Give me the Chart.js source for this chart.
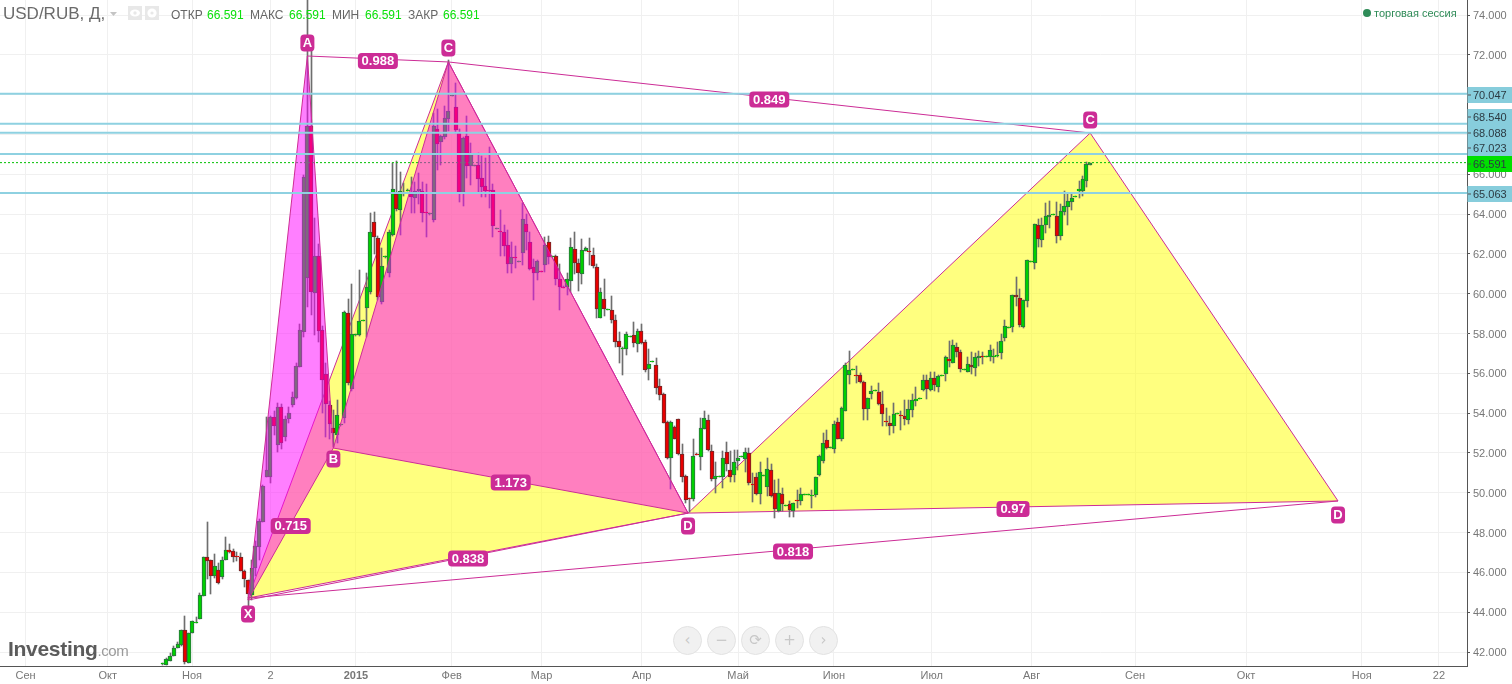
<!DOCTYPE html>
<html lang="ru">
<head>
<meta charset="utf-8">
<title>USD/RUB</title>
<script src="https://cdn.jsdelivr.net/npm/chart.js@4/dist/chart.umd.min.js"></script>
<style>
  html, body { margin: 0; padding: 0; background: #fff; overflow: hidden; }
  #stage { position: relative; width: 1512px; height: 684px; font-family: "Liberation Sans", Arial, sans-serif; }
  canvas { position: absolute; left: 0; top: 0; }
  .t { position: absolute; white-space: nowrap; line-height: 1; }
  .cap { top: 9px; font-size: 12px; color: #666; }
  .val { top: 9px; font-size: 12px; color: #0ce00c; }
  .nav { position: absolute; top: 626px; width: 27px; height: 27px; border-radius: 50%; background: #f1f1f1; border: 1px solid #e2e2e2;
         color: #c8c8c8; font: 15px/27px "DejaVu Sans", sans-serif; text-align: center; }
  .ico { position: absolute; top: 6px; width: 14px; height: 14px; background: #e8e8e8; }
</style>
</head>
<body>
<div id="stage">
  <canvas id="chart" width="1512" height="684"></canvas>
  <div class="t" style="left:3px;top:5px;font-size:17px;color:#6a6a6a">USD/RUB, Д,</div>
  <svg style="position:absolute;left:110px;top:12px" width="8" height="5"><path d="M0 0H7L3.5 4Z" fill="#c4c4c4"/></svg>
  <div class="ico" style="left:128px"><svg width="14" height="14"><ellipse cx="7" cy="7" rx="5" ry="3.5" fill="#fff"/><circle cx="7" cy="7" r="1.7" fill="#e8e8e8"/></svg></div>
  <div class="ico" style="left:145px"><svg width="14" height="14"><circle cx="7" cy="7" r="4.6" fill="#fff"/><circle cx="7" cy="7" r="1.6" fill="#e8e8e8"/></svg></div>
  <div class="t cap" style="left:171px">ОТКР</div><div class="t val" style="left:207px">66.591</div>
  <div class="t cap" style="left:250px">МАКС</div><div class="t val" style="left:289px">66.591</div>
  <div class="t cap" style="left:332px">МИН</div><div class="t val" style="left:365px">66.591</div>
  <div class="t cap" style="left:408px">ЗАКР</div><div class="t val" style="left:443px">66.591</div>
  <div style="position:absolute;left:1363px;top:9px;width:8px;height:8px;border-radius:50%;background:#2e8b57"></div>
  <div class="t" style="left:1374px;top:8px;font-size:11px;color:#2e8b57">торговая сессия</div>
  <div class="t" style="left:8px;top:638px;font-size:21px;font-weight:bold;letter-spacing:-0.3px;color:#5b5b5b">Investing<span style="font-weight:normal;font-size:15px;letter-spacing:-0.4px;color:#9a9a9a">.com</span></div>
  <div class="nav" style="left:673px">‹</div>
  <div class="nav" style="left:707px">−</div>
  <div class="nav" style="left:741px">⟳</div>
  <div class="nav" style="left:775px">+</div>
  <div class="nav" style="left:809px">›</div>
</div>
<script>
// Daily USD/RUB bars, oldest first.
const opens = [
41.38,41.36,41.56,41.81,42.19,42.33,43.10,41.46,42.94,43.47,
43.64,44.83,46.76,46.60,45.80,46.10,45.78,46.61,47.11,47.06,
46.84,46.77,46.05,45.60,44.86,46.20,47.29,48.55,50.81,50.77,
53.79,52.42,54.30,52.79,53.69,54.43,54.78,56.34,58.10,60.81,
68.43,60.06,61.90,58.18,55.97,54.41,53.26,52.90,53.40,53.74,
59.02,55.20,57.94,57.94,58.64,59.27,60.10,63.62,62.79,59.60,
61.85,61.03,62.95,65.02,64.21,65.05,65.18,65.02,64.79,65.15,
65.15,64.11,64.02,63.73,68.27,67.63,67.90,68.78,69.95,69.37,
68.10,65.08,67.92,66.43,66.44,66.46,65.82,65.42,65.24,65.22,
63.27,63.18,63.10,62.45,61.50,61.83,61.61,62.07,63.50,62.60,
61.33,61.06,61.15,61.46,62.59,61.85,61.89,60.74,60.35,60.33,
60.66,62.24,61.53,60.98,62.17,62.15,61.93,61.33,58.76,59.72,
59.20,59.17,58.67,57.61,57.24,57.24,57.84,57.92,57.49,58.14,
57.56,56.24,56.59,56.41,55.35,54.95,53.56,51.76,53.29,53.69,
51.93,50.83,49.72,49.70,51.95,51.81,53.22,53.64,52.09,50.67,
50.81,50.78,52.03,51.13,50.88,51.62,51.81,51.68,51.98,50.43,
50.77,49.94,50.86,50.31,51.13,49.97,49.10,49.92,49.35,49.42,
49.10,49.64,49.60,49.90,49.90,49.85,49.87,50.88,51.58,52.64,
52.26,52.22,53.54,52.69,54.13,55.93,56.18,55.92,55.90,55.55,
54.23,54.98,55.13,55.05,54.45,53.61,53.49,53.37,53.97,53.91,
53.84,53.68,54.18,54.63,54.72,55.18,55.65,55.15,55.75,55.33,
55.88,55.95,56.71,56.51,57.31,57.06,56.18,56.09,56.41,56.29,
56.75,56.88,56.84,56.81,56.84,56.88,57.05,57.77,58.30,58.32,
59.93,59.78,58.35,59.65,61.61,61.57,63.44,62.68,63.44,63.84,
63.97,63.89,62.92,64.09,64.38,64.63,64.88,65.19,65.18,65.68,
66.49];
const highs = [
41.45,41.71,41.95,42.30,42.52,43.12,43.80,42.94,43.56,43.76,
44.98,46.77,48.53,46.60,46.92,46.47,46.79,47.78,47.43,47.18,
47.04,46.97,46.10,45.60,46.62,47.60,48.68,50.40,53.80,53.85,
54.10,54.51,54.45,53.85,54.33,55.06,56.54,58.48,65.95,78.00,
72.25,63.80,62.50,58.40,56.50,54.60,54.16,54.66,53.46,59.12,
59.72,60.48,57.98,61.20,58.68,61.06,64.04,64.09,62.90,62.30,
61.90,63.20,66.56,66.67,66.13,65.57,65.25,65.88,65.63,66.07,
65.60,65.53,64.08,69.08,69.30,68.00,69.45,71.75,70.00,70.60,
68.30,67.90,68.94,67.60,66.47,67.10,66.92,66.83,67.39,65.52,
63.33,64.20,63.47,63.20,62.60,62.40,61.65,64.55,64.00,63.12,
61.75,61.70,61.17,62.87,62.90,61.90,61.95,61.50,60.37,61.04,
62.79,63.12,61.73,62.75,62.35,62.79,62.28,61.48,60.27,60.73,
59.24,59.89,58.92,58.08,57.35,58.08,57.88,58.57,58.21,58.47,
57.68,57.21,56.63,56.76,55.72,55.00,53.60,53.62,53.35,53.72,
52.45,50.90,49.75,52.69,52.00,53.74,54.11,53.91,52.40,51.56,
50.85,52.10,52.57,52.10,52.15,52.15,51.85,52.27,52.27,50.98,
51.00,51.53,50.90,51.73,51.45,50.64,50.67,50.22,49.39,49.60,
49.50,50.14,50.22,49.94,49.94,50.14,50.78,51.90,53.00,53.15,
52.30,53.60,53.77,54.30,56.54,57.13,56.22,56.37,56.00,55.60,
54.75,55.37,55.17,55.53,55.13,54.25,53.86,54.50,54.01,54.13,
54.66,54.66,54.96,55.33,54.76,55.92,55.92,56.05,56.05,55.90,
55.92,56.85,57.64,57.68,57.54,57.20,56.22,56.81,57.08,57.05,
57.13,57.10,56.88,57.41,57.21,57.58,58.00,58.68,58.34,59.95,
60.86,60.24,59.70,61.72,61.65,63.53,63.74,63.79,64.55,64.66,
64.01,64.60,64.50,65.17,65.00,65.00,64.92,65.67,65.92,66.60,
66.59];
const lows = [
41.36,41.36,41.56,41.81,42.19,42.30,41.40,41.46,42.94,43.44,
43.64,44.80,45.67,44.93,45.72,45.40,45.67,46.60,46.99,46.52,
46.59,46.09,45.28,44.28,44.60,45.80,46.60,48.55,50.81,50.49,
52.90,52.06,52.20,52.60,53.50,54.30,54.70,56.30,57.84,59.35,
58.93,57.93,57.60,54.00,52.82,52.70,52.32,52.50,53.38,53.50,
55.40,55.10,57.90,57.90,58.62,57.84,60.00,62.00,59.70,59.50,
61.80,60.86,62.90,64.16,62.95,64.90,65.15,64.04,64.06,64.50,
63.62,62.87,63.96,63.60,66.22,66.47,67.80,68.17,69.93,68.10,
64.63,64.41,65.80,65.47,66.42,65.05,64.87,64.87,64.30,62.87,
63.25,61.90,61.90,61.03,61.06,61.30,61.59,61.45,62.20,61.20,
59.70,60.70,61.10,61.12,61.50,61.83,60.44,59.19,60.30,59.94,
60.10,61.00,60.16,60.49,62.15,61.45,61.30,58.80,58.76,58.90,
59.18,58.52,57.34,56.51,55.92,56.92,57.82,57.34,57.09,57.50,
56.09,55.67,56.57,54.96,54.66,53.50,51.70,50.19,52.70,51.90,
50.56,49.50,49.05,49.60,51.90,51.15,53.20,52.10,50.60,49.97,
50.80,50.22,51.10,50.56,50.56,51.15,51.80,51.06,50.40,49.56,
49.90,49.44,50.85,49.84,49.80,48.75,49.05,49.10,49.33,48.80,
48.80,49.25,49.39,49.88,49.88,49.25,49.80,50.85,51.50,52.20,
52.24,52.02,52.70,52.60,54.10,55.47,56.16,55.53,55.50,53.66,
53.66,54.70,55.11,54.40,53.36,53.36,52.90,53.00,53.95,53.15,
53.40,53.46,53.80,54.38,54.70,55.10,54.73,55.10,55.10,55.08,
55.86,55.63,56.33,56.50,56.80,56.09,56.16,56.05,55.97,55.87,
56.37,56.45,56.82,56.64,56.54,56.80,56.70,57.64,58.28,58.10,
59.40,58.32,58.30,59.35,61.59,61.26,62.37,62.37,63.04,63.29,
63.95,62.57,62.70,63.94,63.46,64.21,64.86,64.80,64.90,65.38,
66.49];
const closes = [
41.43,41.63,41.80,42.19,42.39,43.10,41.50,42.94,43.56,43.52,
44.85,46.77,46.59,45.80,46.30,45.45,46.61,47.11,47.04,46.79,
46.80,46.09,45.65,44.91,46.24,47.34,48.57,50.33,51.13,53.79,
53.36,54.33,52.52,53.69,54.00,54.80,56.37,58.18,65.88,68.43,
60.10,61.90,58.15,55.67,54.46,53.46,53.02,53.89,53.44,59.07,
55.50,57.96,57.98,58.65,58.68,60.32,63.09,62.84,59.82,61.41,
61.89,63.12,65.25,64.26,65.15,65.10,65.22,64.88,65.15,65.25,
64.08,64.07,64.06,68.45,67.55,67.91,68.82,69.19,69.99,68.23,
65.11,67.83,66.43,67.02,66.47,65.77,65.37,65.17,65.20,63.41,
63.31,63.14,62.40,61.50,61.83,61.79,61.65,63.76,63.10,61.27,
61.06,61.63,61.11,62.47,61.83,61.89,60.76,60.36,60.31,60.73,
62.37,61.53,61.06,62.19,62.28,62.11,61.41,59.25,60.08,59.22,
59.24,58.70,57.60,57.34,57.28,57.96,57.88,57.54,58.12,57.54,
56.19,56.46,56.63,55.28,54.93,53.52,51.76,53.56,52.72,51.96,
50.81,49.65,49.68,51.83,51.91,53.24,53.74,52.14,50.71,50.83,
50.85,51.73,51.46,50.81,51.53,51.75,51.85,52.03,50.51,50.39,
49.94,51.03,50.90,51.18,49.86,49.20,49.97,49.45,49.39,49.14,
49.47,49.60,49.92,49.94,49.94,49.89,50.77,51.85,52.49,52.27,
52.30,53.44,52.72,54.25,56.41,56.16,56.22,55.88,55.58,54.23,
54.75,55.10,55.17,54.45,53.98,53.57,53.37,53.94,54.01,53.87,
53.71,54.20,54.65,54.71,54.76,55.65,55.23,55.75,55.43,55.85,
55.92,56.81,56.64,57.41,57.09,56.24,56.22,56.46,56.32,56.81,
56.86,56.84,56.88,57.16,56.88,56.92,57.61,58.37,58.34,59.93,
59.83,58.41,59.67,61.68,61.65,63.49,62.73,63.44,63.89,63.94,
64.01,62.92,64.14,64.39,64.65,64.80,64.92,65.25,65.75,66.50,
66.591];

// Harmonic pattern vertices as [bar, price].
const pattern1 = { X: [23, 44.61], A: [39, 71.95], B: [46, 52.25], C: [77, 71.65], D: [141.6, 48.98] };
const pattern2 = { X: [23, 44.71], A: [77, 71.65], B: [141.6, 48.98], C: [250, 68.08], D: [316.8, 49.59] };
const ratioLabels1 = { XB: '0.715', AC: '0.988', BD: '1.173', XD: '0.838' };
const ratioLabels2 = { AC: '0.849', BD: '0.97', XD: '0.818' };

// Horizontal levels; two of their axis labels sit shifted to stay legible.
const levelValues = [70.047, 68.54, 68.088, 67.023, 65.063];
const lastPrice = 66.591;
const priceTicks = [42,44,46,48,50,52,54,56,58,60,62,64,66,68,70,72,74];
const timeTickBars = [-36.95,-14.8,7.9,29.1,52.1,77.9,102.1,129.1,155.1,180.9,207.3,234.2,262.1,292,323.2,344];
const timeTickLabels = ['Сен','Окт','Ноя','2','2015','Фев','Мар','Апр','Май','Июн','Июл','Авг','Сен','Окт','Ноя','22'];

const BAR_STEP = 3.71, FIRST_BAR_PX = 162.7, PLOT_RIGHT = 1467, PLOT_BOTTOM = 666;
const xMin = -FIRST_BAR_PX / BAR_STEP;
const xMax = (PLOT_RIGHT - FIRST_BAR_PX) / BAR_STEP;
const PINK = '#cc2c96';
const xy = p => ({ x: p[0], y: p[1] });

function triangle(a, b, c, fill, order) {
  return { type: 'line', data: [a, b, c, a].map(xy), fill: 'shape', backgroundColor: fill,
           borderColor: PINK, borderWidth: 1, pointRadius: 0, tension: 0, order };
}
function segment(a, b, color, order) {
  return { type: 'line', data: [a, b].map(xy), fill: false, borderColor: color, borderWidth: 1,
           pointRadius: 0, tension: 0, order };
}

const isDoji = i => Math.abs(opens[i] - closes[i]) < 0.08;
const isUp = i => closes[i] >= opens[i];

const datasets = [
  triangle(pattern2.X, pattern2.A, pattern2.B, 'rgba(255,255,0,0.5)', 50),
  triangle(pattern2.B, pattern2.C, pattern2.D, 'rgba(255,255,0,0.5)', 49),
  { type: 'bar', grouped: false, data: lows.map((l, i) => ({ x: i, y: [l, highs[i]] })),
    backgroundColor: '#6e6e6e', barThickness: 1, order: 41 },
  { type: 'bar', grouped: false, data: opens.map((o, i) => ({ x: i, y: [o, closes[i]] })),
    backgroundColor: c => isUp(c.dataIndex) ? '#00d000' : '#e80000',
    borderColor: c => isDoji(c.dataIndex) ? (isUp(c.dataIndex) ? '#00b400' : '#d00000')
                                          : (isUp(c.dataIndex) ? '#2f6f44' : '#6e2a2a'),
    borderWidth: 1, borderSkipped: false, barThickness: 4, order: 40 },
  { type: 'line', data: [{ x: xMin, y: lastPrice }, { x: xMax, y: lastPrice }], fill: false,
    borderColor: '#00c000', borderWidth: 1, borderDash: [2, 2], pointRadius: 0, order: 35 },
  triangle(pattern1.X, pattern1.A, pattern1.B, 'rgba(255,0,255,0.5)', 30),
  triangle(pattern1.B, pattern1.C, pattern1.D, 'rgba(255,0,255,0.5)', 29),
  segment(pattern1.A, pattern1.C, PINK, 20),
  segment(pattern1.X, pattern1.D, PINK, 20),
  segment(pattern2.A, pattern2.C, PINK, 20),
  segment(pattern2.X, pattern2.D, PINK, 20),
  ...levelValues.map(v => ({ type: 'line', data: [{ x: xMin, y: v }, { x: xMax, y: v }], fill: false,
    borderColor: '#8ed1e1', borderWidth: 2, pointRadius: 0, order: 10 }))
];

// Keeps candles on whole pixels so bodies and wicks stay crisp.
const snapBars = {
  id: 'snapBars',
  afterDatasetsUpdate(chart) {
    chart.getSortedVisibleDatasetMetas().forEach(meta => {
      if (meta.type !== 'bar') return;
      const wide = meta.data.length && meta.data[0].width > 1;
      meta.data.forEach(el => {
        el.x = wide ? Math.round(el.x) : Math.floor(el.x) + 0.5;
        el.y = Math.round(el.y);
        el.base = Math.round(el.base);
        if (el.y === el.base) el.base = el.y + 1;
      });
    });
  }
};

// Pattern badges and the price boxes on the right axis.
const overlays = {
  id: 'overlays',
  afterDraw(chart) {
    const { ctx, scales: { x, y } } = chart;
    const px = p => [x.getPixelForValue(p[0]), y.getPixelForValue(p[1])];

    const badge = (text, cx, cy, w, h) => {
      ctx.fillStyle = PINK;
      ctx.beginPath();
      ctx.roundRect(cx - w / 2, cy - h / 2, w, h, 4);
      ctx.fill();
      ctx.fillStyle = '#fff';
      ctx.font = 'bold 13px "Liberation Sans", Arial, sans-serif';
      ctx.textAlign = 'center';
      ctx.textBaseline = 'middle';
      ctx.fillText(text, cx, cy + 0.5);
    };

    const ratios = [
      [ratioLabels1.XB, pattern1.X, pattern1.B], [ratioLabels1.AC, pattern1.A, pattern1.C],
      [ratioLabels1.BD, pattern1.B, pattern1.D], [ratioLabels1.XD, pattern1.X, pattern1.D],
      [ratioLabels2.AC, pattern2.A, pattern2.C], [ratioLabels2.BD, pattern2.B, pattern2.D],
      [ratioLabels2.XD, pattern2.X, pattern2.D]
    ];
    ratios.forEach(([t, a, b]) => {
      const p = px(a), q = px(b);
      badge(t, (p[0] + q[0]) / 2, (p[1] + q[1]) / 2 + 2, t.length === 4 ? 33 : 40, 16);
    });

    const vertices = [
      ['X', pattern1.X, 14], ['A', pattern1.A, -13], ['B', pattern1.B, 11], ['C', pattern1.C, -14],
      ['D', pattern1.D, 13], ['C', pattern2.C, -13], ['D', pattern2.D, 14]
    ];
    vertices.forEach(([t, p, dy]) => {
      const q = px(p);
      badge(t, q[0], q[1] + dy, 14, 17);
    });

    const axisX = x.right;
    const box = (top, bottom, color) => { ctx.fillStyle = color; ctx.fillRect(axisX + 0.5, top, 1512 - axisX, bottom - top); };
    box(87, 103, '#87cddc');
    box(109, 156, '#87cddc');
    box(156, 172, '#00e000');
    box(186, 202, '#87cddc');
    ctx.font = '11px "Liberation Sans", Arial, sans-serif';
    ctx.textAlign = 'left';
    ctx.textBaseline = 'middle';
    const labels = [[70.047, 95], [68.54, 117], [68.088, 133], [67.023, 148], [lastPrice, 164], [65.063, 194]];
    labels.forEach(([v, cy]) => {
      ctx.fillStyle = '#555';
      ctx.fillRect(axisX + 1, Math.round(cy) - 0.5, 3, 1);
      ctx.fillStyle = '#2b3a42';
      ctx.fillText(v.toFixed(3), 1473, cy + 0.5);
    });
  }
};

Chart.defaults.font.family = '"Liberation Sans", Arial, sans-serif';
new Chart(document.getElementById('chart'), {
  type: 'bar',
  data: { datasets },
  plugins: [snapBars, overlays],
  options: {
    responsive: false,
    animation: false,
    events: [],
    layout: { padding: 0 },
    plugins: { legend: { display: false }, tooltip: { enabled: false } },
    scales: {
      x: {
        type: 'linear', min: xMin, max: xMax, offset: false,
        afterBuildTicks: s => { s.ticks = timeTickBars.map(value => ({ value })); },
        afterFit: s => { s.height = 684 - PLOT_BOTTOM; s.paddingLeft = 0; s.paddingRight = 0; },
        grid: { color: '#f0f0f0', drawTicks: false, offset: false },
        border: { color: '#555', width: 1 },
        ticks: {
          autoSkip: false, maxRotation: 0, padding: 3, color: '#777',
          font: c => ({ size: 11, weight: c.index === 4 ? 'bold' : 'normal' }),
          callback: (v, i) => timeTickLabels[i]
        }
      },
      y: {
        position: 'right', min: 42 + (652 - PLOT_BOTTOM) / 19.9, max: 42 + 652 / 19.9,
        afterBuildTicks: s => { s.ticks = priceTicks.map(value => ({ value })); },
        afterFit: s => { s.width = 1512 - PLOT_RIGHT; s.paddingTop = 0; s.paddingBottom = 0; },
        grid: { color: '#f0f0f0', tickColor: '#555', tickLength: 3 },
        border: { color: '#555', width: 1 },
        ticks: { padding: 3, labelOffset: 1, color: '#777', font: { size: 11 }, callback: v => v.toFixed(3) }
      }
    }
  }
});
</script>
</body>
</html>
